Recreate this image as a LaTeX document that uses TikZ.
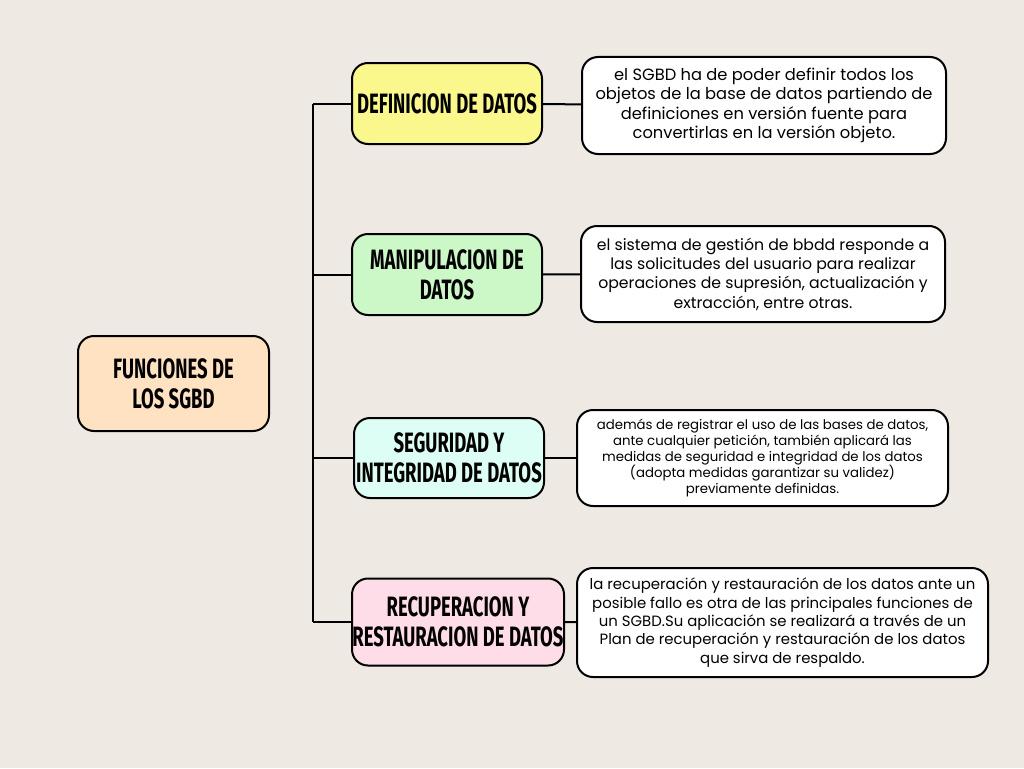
\documentclass[tikz,border=0pt]{standalone}
\usepackage{fontspec}
\setmainfont{Poppins}
\newfontfamily\headfont[FakeStretch=0.66]{Fira Sans}
\usetikzlibrary{positioning,calc}

\definecolor{papir}{RGB}{238,234,227}
\definecolor{gyoker}{RGB}{255,226,194}
\definecolor{sarga}{RGB}{250,248,140}
\definecolor{zold}{RGB}{204,247,198}
\definecolor{turkiz}{RGB}{221,254,244}
\definecolor{rozsa}{RGB}{255,221,232}

\tikzset{
  fejlec/.style={draw=black, line width=2pt, rounded corners=16pt, align=center,
    inner sep=0pt, font=\headfont\bfseries\fontsize{28}{30}\selectfont},
  leiras/.style={draw=black, fill=white, line width=2pt, rounded corners=16pt,
    align=center, inner sep=0pt, font=\fontsize{16.3}{19.3}\selectfont},
  ag/.style={line width=2pt}
}

\begin{document}
\begin{tikzpicture}[x=1pt,y=-1pt]

    % --- Háttér ---
    \fill[papir] (0,0) rectangle (1024,768);
    \useasboundingbox (0,0) rectangle (1024,768);

    % Gyökér
    \node[fejlec, fill=gyoker, minimum width=191pt, minimum height=95pt] (funciones) at (173.5,383.5) {FUNCIONES DE\\LOS SGBD};

    % --- Funkciók ---
    \node[fejlec, fill=sarga, minimum width=190pt, minimum height=81pt] (definicion) at (447,103.5) {DEFINICION DE DATOS};
    \node[fejlec, fill=zold, minimum width=190pt, minimum height=81pt] (manipulacion) at (447,274.5) {MANIPULACION DE\\DATOS};
    \node[fejlec, fill=turkiz, minimum width=190pt, minimum height=80pt] (seguridad) at (449,458) {SEGURIDAD Y\\INTEGRIDAD DE DATOS};
    \node[fejlec, fill=rozsa, minimum width=212pt, minimum height=87pt] (recuperacion) at (458,622) {RECUPERACION Y\\RESTAURACION DE DATOS};

    % --- Leírások ---
    \node[leiras, minimum width=364pt, minimum height=97pt] (defText) at (764,105.5)
        {el SGBD ha de poder definir todos los\\objetos de la base de datos partiendo de\\definiciones en versión fuente para\\convertirlas en la versión objeto.};
    \node[leiras, minimum width=364pt, minimum height=96pt, font=\fontsize{15.7}{19.3}\selectfont] (manText) at (763,274)
        {el sistema de gestión de bbdd responde a\\las solicitudes del usuario para realizar\\operaciones de supresión, actualización y\\extracción, entre otras.};
    \node[leiras, minimum width=371pt, minimum height=96pt, font=\fontsize{13.3}{16.2}\selectfont] (segText) at (762.5,458)
        {además de registrar el uso de las bases de datos,\\ante cualquier petición, también aplicará las\\medidas de seguridad e integridad de los datos\\(adopta medidas garantizar su validez)\\previamente definidas.};
    \node[leiras, minimum width=411pt, minimum height=109pt, font=\fontsize{14.9}{18.3}\selectfont] (recText) at (782.5,622.5)
        {la recuperación y restauración de los datos ante un\\posible fallo es otra de las principales funciones de\\un SGBD.Su aplicación se realizará a través de un\\Plan de recuperación y restauración de los datos\\que sirva de respaldo.};

    % --- Törzs és ágak ---
    \coordinate (torzs) at (313,103.5);
    \draw[ag] (torzs) -- (torzs |- recuperacion.west);
    \foreach \n in {definicion, manipulacion, seguridad, recuperacion}
        \draw[ag] (torzs |- \n.west) -- (\n.west);

    % Leírásokhoz kötés
    \draw[ag] (definicion) -- (defText);
    \draw[ag] (manipulacion) -- (manText);
    \draw[ag] (seguridad) -- (segText);
    \draw[ag] (recuperacion) -- (recText);

\end{tikzpicture}
\end{document}
